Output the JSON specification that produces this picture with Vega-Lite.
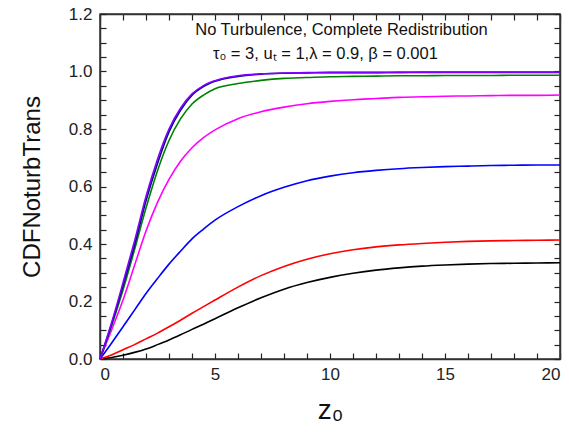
{
  "$schema": "https://vega.github.io/schema/vega-lite/v6.json",
  "width": 460,
  "height": 345,
  "autosize": {"type": "none"},
  "padding": {"left": 100, "top": 14, "right": 9, "bottom": 73},
  "background": "white",
  "config": {
    "view": {"stroke": "#333333", "strokeWidth": 1.5},
    "font": "Liberation Sans",
    "axis": {"grid": false, "tickColor": "#222222", "tickWidth": 1.2, "domainColor": "#333333", "domainWidth": 1.5}
  },
  "datasets": {
    "notes": [
      {"k": "line1", "t": "No Turbulence, Complete Redistribution"},
      {"k": "line2", "t": "τ₀ = 3, uₜ = 1,λ = 0.9, β = 0.001"}
    ]
  },
  "resolve": {"axis": {"x": "independent", "y": "independent"}},
  "layer": [
    {
      "data": {"values": [
        {"s":"black","x":0,"y":0},{"s":"black","x":0.5,"y":0.005},{"s":"black","x":1,"y":0.013},{"s":"black","x":1.5,"y":0.023},{"s":"black","x":2,"y":0.035},{"s":"black","x":2.5,"y":0.05},{"s":"black","x":3,"y":0.066},{"s":"black","x":3.5,"y":0.084},{"s":"black","x":4,"y":0.103},{"s":"black","x":4.5,"y":0.121},{"s":"black","x":5,"y":0.14},{"s":"black","x":6,"y":0.178},{"s":"black","x":7,"y":0.213},{"s":"black","x":8,"y":0.243},{"s":"black","x":9,"y":0.266},{"s":"black","x":10,"y":0.284},{"s":"black","x":11,"y":0.298},{"s":"black","x":12,"y":0.309},{"s":"black","x":13,"y":0.317},{"s":"black","x":14,"y":0.323},{"s":"black","x":15,"y":0.327},{"s":"black","x":16,"y":0.33},{"s":"black","x":17,"y":0.332},{"s":"black","x":18,"y":0.333},{"s":"black","x":19,"y":0.334},{"s":"black","x":20,"y":0.335},
        {"s":"red","x":0,"y":0},{"s":"red","x":0.5,"y":0.014},{"s":"red","x":1,"y":0.032},{"s":"red","x":1.5,"y":0.05},{"s":"red","x":2,"y":0.07},{"s":"red","x":2.5,"y":0.09},{"s":"red","x":3,"y":0.112},{"s":"red","x":3.5,"y":0.135},{"s":"red","x":4,"y":0.159},{"s":"red","x":4.5,"y":0.182},{"s":"red","x":5,"y":0.205},{"s":"red","x":6,"y":0.25},{"s":"red","x":7,"y":0.29},{"s":"red","x":8,"y":0.322},{"s":"red","x":9,"y":0.347},{"s":"red","x":10,"y":0.366},{"s":"red","x":11,"y":0.38},{"s":"red","x":12,"y":0.39},{"s":"red","x":13,"y":0.397},{"s":"red","x":14,"y":0.402},{"s":"red","x":15,"y":0.406},{"s":"red","x":16,"y":0.409},{"s":"red","x":17,"y":0.411},{"s":"red","x":18,"y":0.412},{"s":"red","x":19,"y":0.413},{"s":"red","x":20,"y":0.414},
        {"s":"blue","x":0,"y":0},{"s":"blue","x":0.5,"y":0.055},{"s":"blue","x":1,"y":0.112},{"s":"blue","x":1.5,"y":0.17},{"s":"blue","x":2,"y":0.228},{"s":"blue","x":2.5,"y":0.28},{"s":"blue","x":3,"y":0.33},{"s":"blue","x":3.5,"y":0.375},{"s":"blue","x":4,"y":0.418},{"s":"blue","x":4.5,"y":0.452},{"s":"blue","x":5,"y":0.483},{"s":"blue","x":6,"y":0.53},{"s":"blue","x":7,"y":0.568},{"s":"blue","x":8,"y":0.597},{"s":"blue","x":9,"y":0.62},{"s":"blue","x":10,"y":0.636},{"s":"blue","x":11,"y":0.648},{"s":"blue","x":12,"y":0.656},{"s":"blue","x":13,"y":0.662},{"s":"blue","x":14,"y":0.666},{"s":"blue","x":15,"y":0.669},{"s":"blue","x":16,"y":0.671},{"s":"blue","x":17,"y":0.673},{"s":"blue","x":18,"y":0.674},{"s":"blue","x":19,"y":0.675},{"s":"blue","x":20,"y":0.675},
        {"s":"magenta","x":0,"y":0},{"s":"magenta","x":0.5,"y":0.1},{"s":"magenta","x":1,"y":0.205},{"s":"magenta","x":1.5,"y":0.325},{"s":"magenta","x":2,"y":0.445},{"s":"magenta","x":2.5,"y":0.545},{"s":"magenta","x":3,"y":0.625},{"s":"magenta","x":3.5,"y":0.688},{"s":"magenta","x":4,"y":0.735},{"s":"magenta","x":4.5,"y":0.77},{"s":"magenta","x":5,"y":0.797},{"s":"magenta","x":6,"y":0.836},{"s":"magenta","x":7,"y":0.86},{"s":"magenta","x":8,"y":0.876},{"s":"magenta","x":9,"y":0.888},{"s":"magenta","x":10,"y":0.896},{"s":"magenta","x":11,"y":0.902},{"s":"magenta","x":12,"y":0.906},{"s":"magenta","x":13,"y":0.91},{"s":"magenta","x":14,"y":0.912},{"s":"magenta","x":15,"y":0.914},{"s":"magenta","x":16,"y":0.915},{"s":"magenta","x":17,"y":0.916},{"s":"magenta","x":18,"y":0.917},{"s":"magenta","x":19,"y":0.917},{"s":"magenta","x":20,"y":0.918},
        {"s":"green","x":0,"y":0},{"s":"green","x":0.5,"y":0.115},{"s":"green","x":1,"y":0.24},{"s":"green","x":1.5,"y":0.38},{"s":"green","x":2,"y":0.525},{"s":"green","x":2.5,"y":0.655},{"s":"green","x":3,"y":0.76},{"s":"green","x":3.5,"y":0.835},{"s":"green","x":4,"y":0.887},{"s":"green","x":4.5,"y":0.918},{"s":"green","x":5,"y":0.94},{"s":"green","x":6,"y":0.958},{"s":"green","x":7,"y":0.969},{"s":"green","x":8,"y":0.976},{"s":"green","x":9,"y":0.979},{"s":"green","x":10,"y":0.982},{"s":"green","x":11,"y":0.983},{"s":"green","x":12,"y":0.984},{"s":"green","x":13,"y":0.985},{"s":"green","x":14,"y":0.985},{"s":"green","x":15,"y":0.986},{"s":"green","x":16,"y":0.986},{"s":"green","x":17,"y":0.986},{"s":"green","x":18,"y":0.987},{"s":"green","x":19,"y":0.987},{"s":"green","x":20,"y":0.987},
        {"s":"navy","x":0,"y":0},{"s":"navy","x":0.5,"y":0.12},{"s":"navy","x":1,"y":0.255},{"s":"navy","x":1.5,"y":0.395},{"s":"navy","x":2,"y":0.55},{"s":"navy","x":2.5,"y":0.68},{"s":"navy","x":3,"y":0.79},{"s":"navy","x":3.5,"y":0.865},{"s":"navy","x":4,"y":0.918},{"s":"navy","x":4.5,"y":0.948},{"s":"navy","x":5,"y":0.966},{"s":"navy","x":6,"y":0.983},{"s":"navy","x":7,"y":0.991},{"s":"navy","x":8,"y":0.994},{"s":"navy","x":9,"y":0.995},{"s":"navy","x":10,"y":0.996},{"s":"navy","x":11,"y":0.996},{"s":"navy","x":12,"y":0.996},{"s":"navy","x":13,"y":0.997},{"s":"navy","x":14,"y":0.997},{"s":"navy","x":15,"y":0.997},{"s":"navy","x":16,"y":0.997},{"s":"navy","x":17,"y":0.997},{"s":"navy","x":18,"y":0.997},{"s":"navy","x":19,"y":0.997},{"s":"navy","x":20,"y":0.997},
        {"s":"violet","x":0,"y":0},{"s":"violet","x":0.5,"y":0.125},{"s":"violet","x":1,"y":0.265},{"s":"violet","x":1.5,"y":0.41},{"s":"violet","x":2,"y":0.565},{"s":"violet","x":2.5,"y":0.695},{"s":"violet","x":3,"y":0.8},{"s":"violet","x":3.5,"y":0.872},{"s":"violet","x":4,"y":0.922},{"s":"violet","x":4.5,"y":0.951},{"s":"violet","x":5,"y":0.968},{"s":"violet","x":6,"y":0.985},{"s":"violet","x":7,"y":0.992},{"s":"violet","x":8,"y":0.995},{"s":"violet","x":9,"y":0.996},{"s":"violet","x":10,"y":0.997},{"s":"violet","x":11,"y":0.997},{"s":"violet","x":12,"y":0.997},{"s":"violet","x":13,"y":0.997},{"s":"violet","x":14,"y":0.998},{"s":"violet","x":15,"y":0.998},{"s":"violet","x":16,"y":0.998},{"s":"violet","x":17,"y":0.998},{"s":"violet","x":18,"y":0.998},{"s":"violet","x":19,"y":0.998},{"s":"violet","x":20,"y":0.998}
      ]},
      "mark": {"type": "line", "interpolate": "monotone", "strokeWidth": 1.6},
      "encoding": {
        "x": {
          "field": "x", "type": "quantitative",
          "scale": {"domain": [0, 20], "nice": false, "zero": false},
          "axis": {
            "orient": "bottom",
            "title": "z₀",
            "titleFontSize": 28,
            "titleFontWeight": "normal",
            "titleColor": "#111111",
            "titlePadding": 14,
            "values": [0,1,2,3,4,5,6,7,8,9,10,11,12,13,14,15,16,17,18,19,20],
            "labelExpr": "datum.value % 5 === 0 ? format(datum.value, 'd') : ''",
            "labelFontSize": 17,
            "labelColor": "#222222",
            "labelPadding": 13,
            "tickSize": -6
          }
        },
        "y": {
          "field": "y", "type": "quantitative",
          "scale": {"domain": [0, 1.2], "nice": false, "zero": false},
          "axis": {
            "orient": "left",
            "title": "CDFNoturbTrans",
            "titleFontSize": 24,
            "titleFontWeight": "normal",
            "titleColor": "#111111",
            "titlePadding": 24,
            "values": [0,0.05,0.1,0.15,0.2,0.25,0.3,0.35,0.4,0.45,0.5,0.55,0.6,0.65,0.7,0.75,0.8,0.85,0.9,0.95,1.0,1.05,1.1,1.15,1.2],
            "labelExpr": "abs(datum.value*5 - round(datum.value*5)) < 0.000001 ? format(datum.value, '.1f') : ''",
            "labelFontSize": 17,
            "labelColor": "#222222",
            "labelPadding": 14,
            "tickSize": -6
          }
        },
        "color": {
          "field": "s", "type": "nominal",
          "scale": {
            "domain": ["black","red","blue","magenta","green","navy","violet"],
            "range": ["#000000","#ff0000","#0000ff","#ff00ff","#008000","#000080","#8000ff"]
          },
          "legend": null
        }
      }
    },
    {
      "data": {"name": "notes"},
      "transform": [{"filter": "datum.k === 'line1'"}],
      "mark": {"type": "text", "fontSize": 16.5, "color": "#111111", "align": "center", "baseline": "middle"},
      "encoding": {
        "x": {
          "datum": 10.5, "type": "quantitative",
          "scale": {"domain": [0, 20], "nice": false, "zero": false},
          "axis": {"orient": "top", "title": null, "labels": false,
                   "values": [0,1,2,3,4,5,6,7,8,9,10,11,12,13,14,15,16,17,18,19,20], "tickSize": -6}
        },
        "y": {
          "datum": 1.144, "type": "quantitative",
          "scale": {"domain": [0, 1.2], "nice": false, "zero": false},
          "axis": {"orient": "right", "title": null, "labels": false,
                   "values": [0,0.05,0.1,0.15,0.2,0.25,0.3,0.35,0.4,0.45,0.5,0.55,0.6,0.65,0.7,0.75,0.8,0.85,0.9,0.95,1.0,1.05,1.1,1.15,1.2], "tickSize": -6}
        },
        "text": {"field": "t"}
      }
    },
    {
      "data": {"name": "notes"},
      "transform": [{"filter": "datum.k === 'line2'"}],
      "mark": {"type": "text", "fontSize": 16.5, "color": "#111111", "align": "center", "baseline": "middle"},
      "encoding": {
        "x": {"datum": 9.8, "type": "quantitative", "scale": {"domain": [0, 20], "nice": false, "zero": false}, "axis": null},
        "y": {"datum": 1.062, "type": "quantitative", "scale": {"domain": [0, 1.2], "nice": false, "zero": false}, "axis": null},
        "text": {"field": "t"}
      }
    }
  ]
}
